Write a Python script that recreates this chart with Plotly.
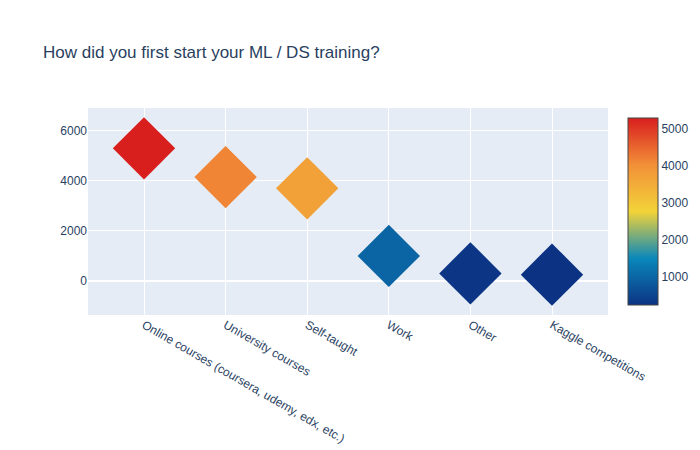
import plotly.graph_objects as go

categories = [
    "Online courses (coursera, udemy, edx, etc.)",
    "University courses",
    "Self-taught",
    "Work",
    "Other",
    "Kaggle competitions",
]
counts = [5300, 4150, 3700, 1000, 300, 250]

fig = go.Figure(
    go.Scatter(
        x=categories,
        y=counts,
        mode="markers",
        marker=dict(
            symbol="diamond",
            size=48,
            color=counts,
            colorscale="Portland",
            showscale=True,
        ),
    )
)

fig.update_layout(
    title="How did you first start your ML / DS training?",
    font=dict(family="Arial, Liberation Sans, sans-serif"),
    width=700,
    height=450,
)

fig.write_html("out.html")
